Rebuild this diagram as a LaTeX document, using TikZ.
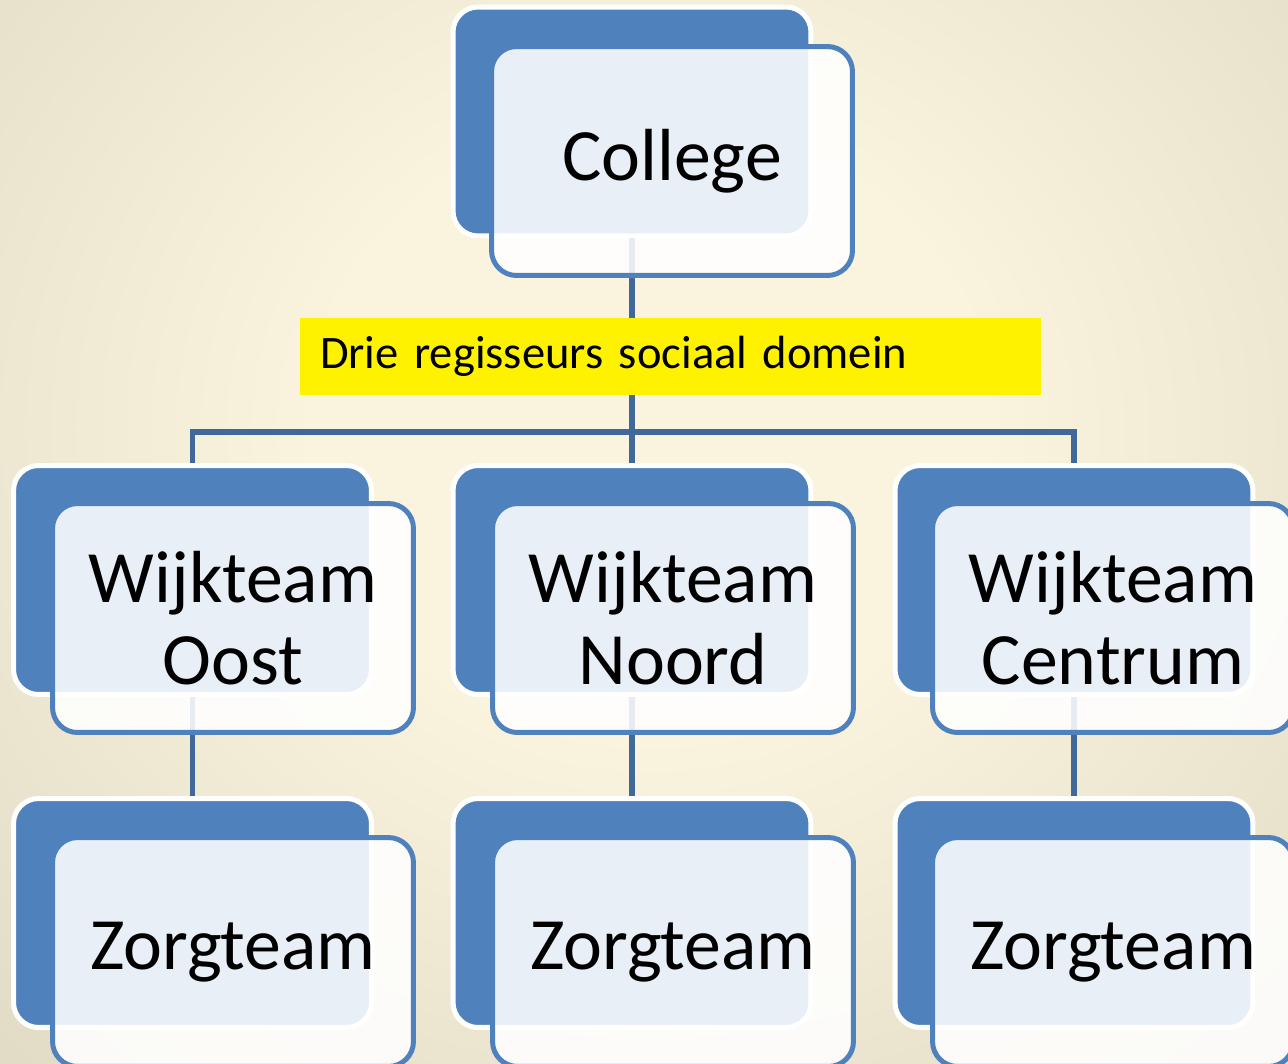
\documentclass[tikz,border=0pt]{standalone}
\usepackage{fontspec}
\setmainfont{Carlito}

\definecolor{bgin}{RGB}{250,244,223}
\definecolor{bgmid}{RGB}{212,205,184}
\definecolor{bgout}{RGB}{180,178,162}
\definecolor{boxblue}{RGB}{79,129,189}
\definecolor{linkblue}{RGB}{64,104,152}
\pgfdeclareradialshading{bgglow}{\pgfpoint{0bp}{0bp}}{color(0bp)=(bgin); color(12bp)=(bgin); color(46bp)=(bgmid); color(72bp)=(bgout)}

\begin{document}
\begin{tikzpicture}[x=0.02cm, y=-0.02cm,
		backbox/.style={draw=white, fill=boxblue, line width=0.1cm, rounded corners=0.5cm, minimum width=7.16cm, minimum height=4.58cm},
		frontbox/.style={draw=boxblue, fill=white, fill opacity=0.88, text opacity=1, line width=0.1cm, rounded corners=0.5cm, minimum width=7.22cm, minimum height=4.58cm, align=center, font=\fontsize{42pt}{46.5pt}\selectfont},
		link/.style={draw=linkblue, line width=0.11cm}]
		\useasboundingbox (0,0) rectangle (1288,1063);
		\clip (0,0) rectangle (1288,1063);
		% background
		\shade[shading=bgglow] (-50,-210) rectangle (1350,1070);

		% back boxes
		\node[backbox] (collegeback) at (632,121.5) {};
		\node[backbox] (oostback) at (192.5,580) {};
		\node[backbox] (noordback) at (632,580) {};
		\node[backbox] (centrumback) at (1074,580) {};
		\node[backbox] (oostzorgback) at (192.5,913) {};
		\node[backbox] (noordzorgback) at (632,913) {};
		\node[backbox] (centrumzorgback) at (1074,913) {};

		% connectors
		\coordinate (split) at (632,432);
		\draw[link] (collegeback.south) -- (split);
		\draw[link] (split) -| (oostback.north);
		\draw[link] (split) -- (noordback.north);
		\draw[link] (split) -| (centrumback.north);
		\draw[link] (oostback.south) -- (oostzorgback.north);
		\draw[link] (noordback.south) -- (noordzorgback.north);
		\draw[link] (centrumback.south) -- (centrumzorgback.north);

		% label
		\node[fill=yellow, minimum height=1.54cm, text width=14.02cm, inner xsep=0.4cm, align=left, font=\fontsize{26.5pt}{30pt}\selectfont] (regie) at (670.5,356.5) {Drie regisseurs sociaal domein};

		% front boxes
		\node[frontbox] (college) at (672,161) {College};
		\node[frontbox] (oost) at (233,618) {Wijkteam\\Oost};
		\node[frontbox] (noord) at (673,618) {Wijkteam\\Noord};
		\node[frontbox] (centrum) at (1113,618) {Wijkteam\\Centrum};
		\node[frontbox] (oostzorg) at (233,952) {Zorgteam};
		\node[frontbox] (noordzorg) at (673,952) {Zorgteam};
		\node[frontbox] (centrumzorg) at (1113,952) {Zorgteam};
	\end{tikzpicture}
\end{document}
